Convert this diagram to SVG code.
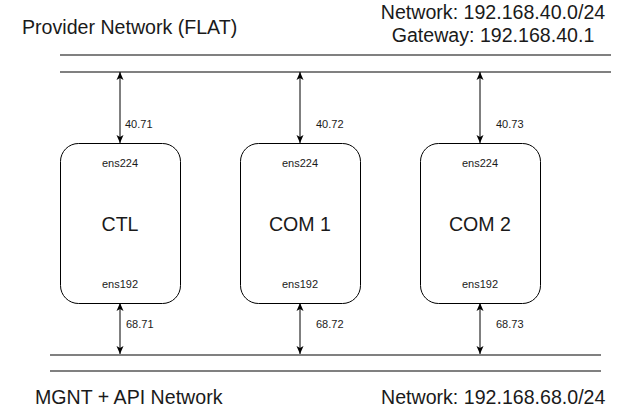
<svg xmlns="http://www.w3.org/2000/svg" width="621" height="409" viewBox="0 0 621 409">
<style>
.net{stroke:#808080;stroke-width:2;fill:none}
.box{fill:#fff;stroke:#000;stroke-width:1}
.big{font-family:"Liberation Sans",Arial,sans-serif;font-size:19.6px;fill:#1a1a1a}
.sm{font-family:"Liberation Sans",Arial,sans-serif;font-size:11px;fill:#1a1a1a}
.lbl{font-family:"Liberation Sans",Arial,sans-serif;font-size:11px;fill:#1a1a1a}
.edge{stroke:#000;stroke-width:1;fill:none;marker-start:url(#ah);marker-end:url(#ah)}
</style>
<defs>
<marker id="ah" viewBox="0 0 8 8" refX="8" refY="4" markerWidth="8" markerHeight="8" markerUnits="userSpaceOnUse" orient="auto-start-reverse">
<path d="M0,0.5 L8,4 L0,7.5 L2,4 z" fill="#000"/>
</marker>
</defs>
<g id="titles">
<text class="big" x="22" y="34">Provider Network (FLAT)</text>
<text class="big" x="493" y="19" text-anchor="middle">Network: 192.168.40.0/24</text>
<text class="big" x="493" y="41.5" text-anchor="middle">Gateway: 192.168.40.1</text>
<text class="big" x="35" y="404">MGNT + API Network</text>
<text class="big" x="381" y="404">Network: 192.168.68.0/24</text>
</g>
<g id="provider-network">
<line class="net" x1="60" y1="55" x2="611" y2="55"/>
<line class="net" x1="60" y1="72" x2="611" y2="72"/>
</g>
<g id="mgnt-network">
<line class="net" x1="50" y1="355" x2="601" y2="355"/>
<line class="net" x1="50" y1="371" x2="601" y2="371"/>
</g>
<g id="connectors">
<line class="edge" x1="120" y1="72" x2="120" y2="143"/>
<line class="edge" x1="300" y1="72" x2="300" y2="143"/>
<line class="edge" x1="480" y1="72" x2="480" y2="143"/>
<line class="edge" x1="120" y1="303" x2="120" y2="354"/>
<line class="edge" x1="300" y1="303" x2="300" y2="354"/>
<line class="edge" x1="480" y1="303" x2="480" y2="354"/>
<text class="lbl" x="125" y="128">40.71</text>
<text class="lbl" x="316" y="128">40.72</text>
<text class="lbl" x="496" y="128">40.73</text>
<text class="lbl" x="126" y="328">68.71</text>
<text class="lbl" x="316" y="328">68.72</text>
<text class="lbl" x="496" y="328">68.73</text>
</g>
<g id="ctl">
<rect class="box" x="60.5" y="143.5" width="120" height="160" rx="18"/>
<text class="sm" x="120" y="167" text-anchor="middle">ens224</text>
<text class="big" x="120" y="231" text-anchor="middle">CTL</text>
<text class="sm" x="120" y="288" text-anchor="middle">ens192</text>
</g>
<g id="com1">
<rect class="box" x="240.5" y="143.5" width="120" height="160" rx="18"/>
<text class="sm" x="300" y="167" text-anchor="middle">ens224</text>
<text class="big" x="300" y="231" text-anchor="middle">COM 1</text>
<text class="sm" x="300" y="288" text-anchor="middle">ens192</text>
</g>
<g id="com2">
<rect class="box" x="420.5" y="143.5" width="120" height="160" rx="18"/>
<text class="sm" x="480" y="167" text-anchor="middle">ens224</text>
<text class="big" x="480" y="231" text-anchor="middle">COM 2</text>
<text class="sm" x="480" y="288" text-anchor="middle">ens192</text>
</g>
</svg>
